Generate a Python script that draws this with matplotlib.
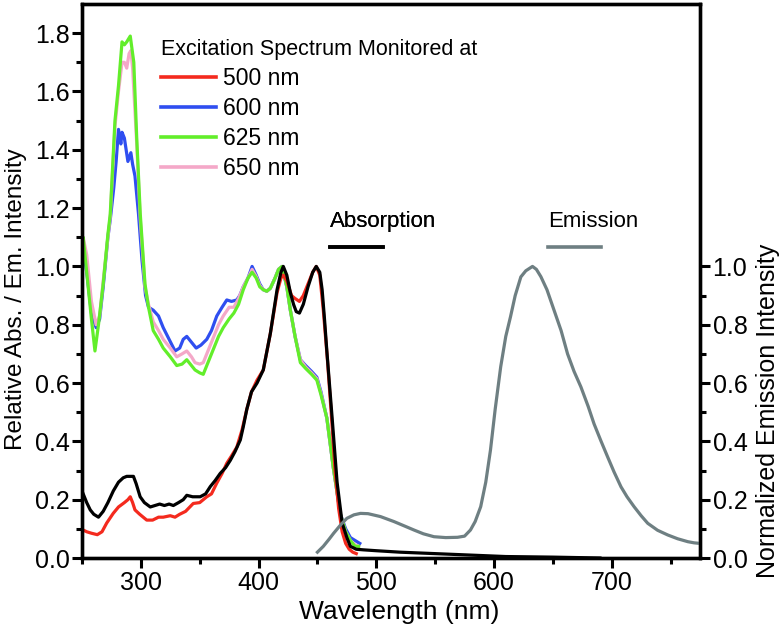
import matplotlib
matplotlib.use("Agg")
import matplotlib.pyplot as plt
from matplotlib.ticker import MultipleLocator, FixedLocator
import numpy as np

plt.rcParams['font.family'] = ['Liberation Sans', 'DejaVu Sans']

# ---------------- data ----------------
wl_625 = [250, 251, 254, 258, 261, 264, 268, 272, 274, 278, 281, 284, 286, 288, 291, 294, 296.5,
          299.5, 303.5, 306.5, 310.5, 315, 319, 325, 330.5, 335, 339, 343, 346, 350, 353, 357,
          362, 366, 370, 375, 379, 383, 387, 391, 394.5, 398, 401, 404, 407, 410, 414, 417, 420,
          424, 427, 431, 435.5, 440, 445, 449.5, 453, 458, 463.5, 469.5, 474, 478, 482, 485]
ex_625 = [1.05, 1.10, 0.98, 0.82, 0.71, 0.80, 0.94, 1.11, 1.18, 1.50, 1.62, 1.77, 1.76, 1.77,
          1.79, 1.70, 1.44, 1.18, 0.94, 0.86, 0.78, 0.75, 0.72, 0.69, 0.66, 0.665, 0.68, 0.66,
          0.645, 0.635, 0.63, 0.67, 0.72, 0.76, 0.79, 0.82, 0.84, 0.87, 0.92, 0.96, 0.98, 0.96,
          0.93, 0.92, 0.915, 0.925, 0.96, 0.99, 1.0, 0.93, 0.85, 0.76, 0.67, 0.65, 0.63, 0.61,
          0.56, 0.48, 0.31, 0.15, 0.09, 0.06, 0.04, 0.04]

wl_600 = [250, 251, 254, 258, 262, 265, 268, 272, 274, 277, 279, 281, 283, 284, 286, 287.5, 289,
          291.5, 293, 295, 298, 301, 304, 306.5, 310.5, 315, 319, 324, 329, 333, 336, 339, 343,
          347, 351, 356, 360, 364.5, 369, 373, 377, 381.5, 384, 387, 391, 394.5, 398, 401, 404,
          407, 410, 414, 417, 420, 424, 427, 431, 435.5, 440, 445, 449.5, 453, 458, 463.5, 469.5,
          474, 478, 482, 486]
ex_600 = [1.04, 1.06, 0.98, 0.84, 0.79, 0.82, 0.93, 1.10, 1.16, 1.27, 1.36, 1.47, 1.42, 1.46,
          1.44, 1.40, 1.36, 1.39, 1.35, 1.31, 1.18, 1.02, 0.90, 0.86, 0.85, 0.83, 0.79, 0.75, 0.71,
          0.72, 0.75, 0.76, 0.74, 0.72, 0.73, 0.75, 0.78, 0.83, 0.86, 0.885, 0.88, 0.885, 0.90,
          0.93, 0.96, 1.0, 0.97, 0.94, 0.92, 0.915, 0.925, 0.96, 0.99, 1.0, 0.93, 0.85, 0.76, 0.68,
          0.66, 0.64, 0.62, 0.57, 0.48, 0.31, 0.15, 0.10, 0.07, 0.06, 0.05]

wl_650 = [250, 251, 254, 258, 262, 265, 268, 272, 274, 278, 281, 284, 286, 288, 290, 291.5, 293,
          296.5, 299.5, 303.5, 306.5, 310.5, 315, 319, 325, 330.5, 335, 339, 343, 346, 350, 353,
          357, 362, 366, 370, 375, 379, 383, 387, 391, 394.5, 398, 401, 404, 407, 410, 414, 417,
          420, 424, 427, 431, 435.5, 440, 445, 449.5, 453, 458, 463.5, 469.5, 474, 478, 482, 485]
ex_650 = [1.08, 1.10, 1.04, 0.88, 0.80, 0.83, 0.95, 1.10, 1.17, 1.48, 1.60, 1.70, 1.70, 1.68,
          1.73, 1.74, 1.68, 1.42, 1.16, 0.93, 0.87, 0.81, 0.78, 0.75, 0.72, 0.69, 0.70, 0.71, 0.69,
          0.67, 0.665, 0.67, 0.71, 0.76, 0.80, 0.83, 0.86, 0.86, 0.89, 0.93, 0.96, 0.99, 0.965,
          0.935, 0.92, 0.915, 0.925, 0.96, 0.99, 1.0, 0.93, 0.85, 0.76, 0.68, 0.655, 0.635, 0.615,
          0.565, 0.48, 0.31, 0.15, 0.09, 0.06, 0.045, 0.04]

wl_500 = [250, 251, 254, 258, 263, 267, 271, 276.5, 281, 286, 289, 291, 293, 295, 299, 305, 310,
          315, 319, 325, 329, 333, 338, 344.5, 350, 356, 360, 364.5, 369, 373, 377, 381.5, 386,
          390, 394, 398.7, 404, 410, 415.7, 419, 421, 424, 428, 431, 434.7, 438, 442, 446, 449,
          452, 455, 458.5, 462, 465, 468, 471, 474, 477, 480, 483]
ex_500 = [0.10, 0.096, 0.09, 0.085, 0.08, 0.09, 0.12, 0.153, 0.175, 0.19, 0.20, 0.21, 0.19,
          0.165, 0.15, 0.13, 0.13, 0.14, 0.14, 0.145, 0.14, 0.15, 0.16, 0.187, 0.19, 0.21, 0.22,
          0.257, 0.29, 0.325, 0.35, 0.38, 0.44, 0.51, 0.57, 0.61, 0.645, 0.77, 0.91, 0.96, 0.97,
          0.95, 0.90, 0.89, 0.88, 0.90, 0.94, 0.98, 1.0, 0.97, 0.85, 0.68, 0.48, 0.30, 0.17, 0.09,
          0.05, 0.03, 0.02, 0.015]

wl_abs = [250, 251, 254, 257, 260, 264, 268, 272, 276.6, 281, 285, 288, 291, 293.7, 296, 299.4,
          303, 308, 312, 316, 320, 324, 327.6, 332, 336, 339, 344, 350.4, 355, 359, 363, 367.4,
          372, 376, 380, 384.5, 387, 390, 394, 398.7, 404, 410, 415.7, 419, 421, 424, 427, 429.7,
          432, 434.7, 438, 442, 446, 449, 452, 454, 456, 458, 462.5, 466.7, 471, 475, 478, 483,
          489, 500, 520, 550, 580, 610, 650, 690]
absorb = [0.23, 0.22, 0.19, 0.165, 0.15, 0.14, 0.16, 0.19, 0.23, 0.26, 0.275, 0.28, 0.28, 0.28,
          0.255, 0.21, 0.19, 0.175, 0.18, 0.185, 0.18, 0.185, 0.18, 0.19, 0.20, 0.215, 0.21, 0.21,
          0.22, 0.245, 0.265, 0.29, 0.31, 0.335, 0.365, 0.405, 0.45, 0.51, 0.57, 0.60, 0.645, 0.77,
          0.92, 0.98, 1.0, 0.97, 0.91, 0.87, 0.845, 0.84, 0.87, 0.93, 0.98, 1.0, 0.98, 0.92, 0.82,
          0.71, 0.48, 0.26, 0.12, 0.07, 0.04, 0.03, 0.028, 0.025, 0.02, 0.015, 0.01, 0.005, 0.003,
          0.0]

wl_em = [450, 455, 460, 463.8, 470, 475, 481, 486.6, 493, 503.6, 515, 525, 532, 540, 549, 559,
         569, 575, 580, 584, 588.7, 593, 597, 601, 605.7, 610, 614, 618, 622.8, 627, 632.7, 636,
         639.8, 645, 651, 657, 662.5, 668, 673.8, 680, 685, 691, 696.5, 702, 707.9, 713, 719, 725,
         730.6, 739, 747.6, 756, 764.6, 770, 775]
emis = [0.02, 0.04, 0.065, 0.085, 0.115, 0.136, 0.148, 0.153, 0.152, 0.142, 0.125, 0.108, 0.096,
        0.083, 0.073, 0.07, 0.071, 0.075, 0.096, 0.125, 0.176, 0.26, 0.37, 0.51, 0.656, 0.76,
        0.827, 0.90, 0.964, 0.985, 1.0, 0.99, 0.965, 0.92, 0.85, 0.78, 0.70, 0.64, 0.587, 0.52,
        0.46, 0.40, 0.347, 0.295, 0.244, 0.21, 0.176, 0.145, 0.119, 0.095, 0.079, 0.066, 0.056,
        0.052, 0.05]

exc_labels = ['500 nm', '600 nm', '625 nm', '650 nm']
x_ticks = [300, 400, 500, 600, 700]
y_ticks_left = [0.0, 0.2, 0.4, 0.6, 0.8, 1.0, 1.2, 1.4, 1.6, 1.8]
y_ticks_right = [0.0, 0.2, 0.4, 0.6, 0.8, 1.0]

# ---------------- styles ----------------
c_red = '#f42a1e'
c_blue = '#2f4ef0'
c_green = '#62ee2a'
c_pink = '#f4a8c8'
c_black = '#000000'
c_gray = '#6e7f82'
lw = 2.3

fig = plt.figure(figsize=(7.84, 6.31), dpi=100)
ax = fig.add_axes([82/784, 1 - 558/631, (700-82)/784, (558-4)/631])

l_blue, = ax.plot(wl_600, ex_600, color=c_blue, lw=lw)
l_pink, = ax.plot(wl_650, ex_650, color=c_pink, lw=lw)
l_green, = ax.plot(wl_625, ex_625, color=c_green, lw=lw)
l_red, = ax.plot(wl_500, ex_500, color=c_red, lw=lw)
l_abs, = ax.plot(wl_abs, absorb, color=c_black, lw=lw)

ax2 = ax.twinx()
l_em, = ax2.plot(wl_em, emis, color=c_gray, lw=lw)

ax.set_xlim(250, 775)
ax.set_ylim(0, 1.9)
ax2.set_ylim(0, 1.9)

ax.xaxis.set_major_locator(FixedLocator(x_ticks))
ax.xaxis.set_minor_locator(MultipleLocator(50))
ax.yaxis.set_major_locator(FixedLocator(y_ticks_left))
ax.yaxis.set_minor_locator(FixedLocator(np.arange(0.1, 1.8, 0.2)))
ax2.yaxis.set_major_locator(FixedLocator(y_ticks_right))
ax2.yaxis.set_minor_locator(FixedLocator(np.arange(0.1, 1.0, 0.2)))
ax.set_xticklabels([str(t) for t in x_ticks])
ax.set_yticklabels([f'{t:.1f}' for t in y_ticks_left])
ax2.set_yticklabels([f'{t:.1f}' for t in y_ticks_right])

for a in (ax, ax2):
    for s in a.spines.values():
        s.set_linewidth(2.4)
    a.tick_params(which='major', length=7, width=2.2, labelsize=18, direction='out', pad=2)
    a.tick_params(which='minor', length=4, width=2.2, direction='out')
ax.tick_params(axis='y', which='both', right=False)
ax.tick_params(axis='x', which='both', top=False)

ax.set_xlabel('Wavelength (nm)', fontsize=19)
ax.xaxis.set_label_coords((399 - 82) / 618, (558 - 600) / 554)
ax.set_ylabel('Relative Abs. / Em. Intensity', fontsize=17.5)
ax.yaxis.set_label_coords((27 - 82) / 618, (558 - 299) / 554)
ax2.set_ylabel('Normalized Emission Intensity', fontsize=18)
ax2.yaxis.set_label_coords((756 - 82) / 618, (558 - 411) / 554)

# legends
leg1 = ax.legend([l_red, l_blue, l_green, l_pink], exc_labels,
                 title='Excitation Spectrum Monitored at', alignment='left',
                 loc='upper left', bbox_to_anchor=(161/784, 1 - 39/631),
                 bbox_transform=fig.transFigure, frameon=False, fontsize=16.5,
                 title_fontsize=15.5, handlelength=2.4, handletextpad=0.3,
                 labelspacing=0.31, borderpad=0, borderaxespad=0)
for h in leg1.legend_handles:
    h.set_linewidth(2.6)
ax.add_artist(leg1)

leg2 = ax.legend([l_abs], [''], title='Absorption', alignment='left',
                 loc='upper left', bbox_to_anchor=(330/784, 1 - 211/631),
                 bbox_transform=fig.transFigure, frameon=False, fontsize=16,
                 title_fontsize=16, handlelength=2.4, handletextpad=0.0,
                 labelspacing=0.3, borderpad=0, borderaxespad=0)
leg2.legend_handles[0].set_linewidth(2.6)
ax.add_artist(leg2)

leg3 = ax2.legend([l_em], [''], title='Emission', alignment='left',
                  loc='upper left', bbox_to_anchor=(548/784, 1 - 211/631),
                  bbox_transform=fig.transFigure, frameon=False, fontsize=16,
                  title_fontsize=16, handlelength=2.4, handletextpad=0.0,
                  labelspacing=0.3, borderpad=0, borderaxespad=0)
leg3.legend_handles[0].set_linewidth(2.6)

fig.savefig('out.png', dpi=100)
